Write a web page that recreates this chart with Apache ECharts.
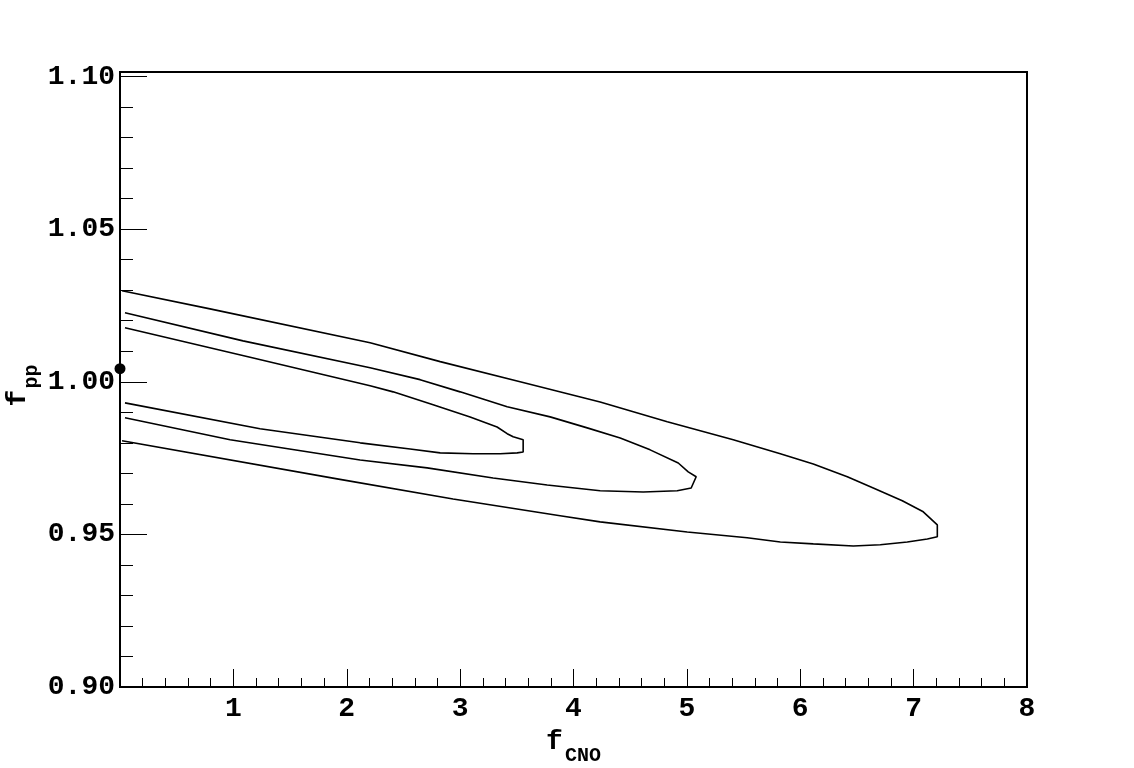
<!DOCTYPE html>
<html><head><meta charset="utf-8">
<script src="https://cdn.jsdelivr.net/npm/echarts@6/dist/echarts.min.js"></script>
<style>html,body{margin:0;padding:0;background:#fff}#c{width:1134px;height:768px}</style>
</head><body><div id="c"></div>
<script>
// Outer contour (f_CNO, f_pp)
const outerX = [0.018, 0.794, 2.206, 2.824, 3.529, 4.235, 4.827, 5.409, 5.824, 6.115, 6.415, 6.644, 6.900, 7.085, 7.209, 7.209, 7.121, 6.944, 6.706, 6.468, 6.115, 5.824, 5.532, 5.003, 4.235, 3.882, 2.938, 1.915, 0.018];
const outerY = [1.0298, 1.0239, 1.0128, 1.0066, 1.0000, 0.9934, 0.9869, 0.9810, 0.9764, 0.9731, 0.9689, 0.9652, 0.9610, 0.9574, 0.9531, 0.9492, 0.9485, 0.9475, 0.9466, 0.9462, 0.9469, 0.9475, 0.9489, 0.9508, 0.9541, 0.9561, 0.9616, 0.9682, 0.9807];
// Middle contour
const middleX = [0.044, 1.085, 2.206, 2.647, 3.000, 3.415, 3.794, 4.121, 4.412, 4.676, 4.924, 5.012, 5.082, 5.038, 4.915, 4.615, 4.235, 3.768, 3.291, 2.709, 2.118, 0.971, 0.044];
const middleY = [1.0226, 1.0134, 1.0046, 1.0007, 0.9967, 0.9918, 0.9885, 0.9849, 0.9816, 0.9777, 0.9734, 0.9705, 0.9689, 0.9652, 0.9643, 0.9639, 0.9643, 0.9662, 0.9685, 0.9718, 0.9744, 0.9810, 0.9882];
// Inner contour
const innerX = [0.044, 1.129, 2.206, 2.409, 2.762, 3.088, 3.326, 3.415, 3.468, 3.556, 3.556, 3.503, 3.353, 3.115, 2.824, 2.559, 2.118, 1.235, 0.044];
const innerY = [1.0177, 1.0082, 0.9987, 0.9967, 0.9925, 0.9885, 0.9852, 0.9830, 0.9820, 0.9810, 0.9770, 0.9767, 0.9764, 0.9764, 0.9767, 0.9780, 0.9800, 0.9846, 0.9931];
// Best-fit point
const pointX = [0.0];
const pointY = [1.0043];
// Axes
const xMin = 0, xMax = 8, xStep = 1;
const yMin = 0.90, yMax = 1.1015, yStep = 0.05, yMinorStep = 0.01;

const zip = (xs, ys) => xs.map((x, i) => [x, ys[i]]);
const font = '"Liberation Mono", "DejaVu Sans Mono", monospace';
const chart = echarts.init(document.getElementById('c'));
const lineSeries = (name, xs, ys) => ({
  type: 'line', name, data: zip(xs, ys), xAxisIndex: 0, yAxisIndex: 0,
  showSymbol: false, symbol: 'none', smooth: false,
  lineStyle: { color: '#000', width: 1.6 }
});
chart.setOption({
  animation: false,
  backgroundColor: '#fff',
  grid: { left: 120, right: 107, top: 72, bottom: 81, show: true, borderColor: '#000', borderWidth: 2,
    backgroundColor: 'transparent', containLabel: false, outerBoundsMode: 'none' },
  xAxis: [{
    type: 'value', min: xMin, max: xMax, interval: xStep,
    axisLine: { show: true, lineStyle: { color: '#000', width: 2 } },
    axisTick: { show: true, inside: true, length: 18, lineStyle: { color: '#000', width: 1 } },
    minorTick: { show: true, splitNumber: 5, length: 9, lineStyle: { color: '#000', width: 1 } },
    splitLine: { show: false },
    axisLabel: { margin: 8, color: '#000', fontFamily: font, fontWeight: 'bold', fontSize: 28,
      formatter: v => (v === 0 ? '' : String(v)) },
    name: '{f|f}{s|CNO}', nameLocation: 'middle', nameGap: 41, nameMoveOverlap: false,
    nameTextStyle: { color: '#000', fontFamily: font, fontWeight: 'bold',
      rich: { f: { fontSize: 28, fontFamily: font, fontWeight: 'bold', color: '#000', verticalAlign: 'top', lineHeight: 38 },
              s: { fontSize: 20, fontFamily: font, fontWeight: 'bold', color: '#000', verticalAlign: 'bottom', lineHeight: 37, padding: [0, 0, 0, 2] } } }
  }],
  yAxis: [{
    type: 'value', min: yMin, max: yMax, interval: yStep,
    axisLine: { show: true, onZero: false, lineStyle: { color: '#000', width: 2 } },
    axisTick: { show: true, inside: true, length: 27, lineStyle: { color: '#000', width: 1 } },
    splitLine: { show: false },
    axisLabel: { margin: 5, color: '#000', fontFamily: font, fontWeight: 'bold', fontSize: 28,
      formatter: v => (v > 1.1001 ? '' : v.toFixed(2)) },
    name: '{f|f}{s|pp}', nameLocation: 'middle', nameGap: 78, nameRotate: 90, nameMoveOverlap: false,
    nameTextStyle: { color: '#000', fontFamily: font, fontWeight: 'bold',
      rich: { f: { fontSize: 28, fontFamily: font, fontWeight: 'bold', color: '#000', verticalAlign: 'top', lineHeight: 38 },
              s: { fontSize: 20, fontFamily: font, fontWeight: 'bold', color: '#000', verticalAlign: 'bottom', lineHeight: 38, padding: [0, 12, 0, 1] } } }
  }, {
    type: 'value', min: yMin, max: yMax, interval: yMinorStep, position: 'left', offset: 0,
    axisLine: { show: false, onZero: false },
    axisTick: { show: true, inside: true, length: 13, lineStyle: { color: '#000', width: 1 } },
    splitLine: { show: false },
    axisLabel: { show: false }
  }],
  series: [
    lineSeries('outer', outerX, outerY),
    lineSeries('middle', middleX, middleY),
    lineSeries('inner', innerX, innerY),
    { type: 'scatter', name: 'best fit', data: zip(pointX, pointY), symbolSize: 11, clip: false,
      itemStyle: { color: '#000', opacity: 1 }, xAxisIndex: 0, yAxisIndex: 0 }
  ]
});
</script>
</body></html>
